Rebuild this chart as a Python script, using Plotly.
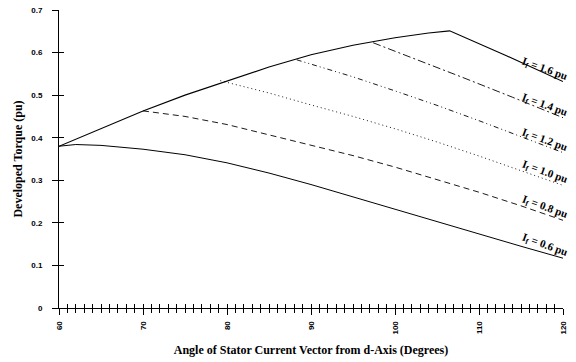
import plotly.graph_objects as go

# ---- data ----
if_labels = ["1.6", "1.4", "1.2", "1.0", "0.8", "0.6"]

angle_16 = [60, 65, 70, 75, 80, 85, 90, 95, 100, 104, 106.5, 113, 120]
torque_16 = [0.380, 0.422, 0.463, 0.500, 0.533, 0.566, 0.595, 0.617, 0.635, 0.646, 0.651, 0.595, 0.532]

angle_14 = [97.4, 103, 108, 114, 120]
torque_14 = [0.623, 0.581, 0.542, 0.495, 0.447]

angle_12 = [88.3, 95, 100, 105, 110, 115, 120]
torque_12 = [0.583, 0.543, 0.510, 0.476, 0.440, 0.403, 0.365]

angle_10 = [79.2, 85, 90, 95, 100, 105, 110, 115, 120]
torque_10 = [0.534, 0.505, 0.477, 0.450, 0.421, 0.390, 0.357, 0.323, 0.288]

angle_08 = [70, 75, 80, 85, 90, 95, 100, 105, 110, 115, 120]
torque_08 = [0.463, 0.450, 0.431, 0.407, 0.383, 0.358, 0.331, 0.302, 0.272, 0.240, 0.206]

angle_06 = [60, 62, 65, 70, 75, 80, 85, 90, 95, 100, 105, 110, 115, 120]
torque_06 = [0.380, 0.384, 0.382, 0.373, 0.360, 0.341, 0.317, 0.290, 0.261, 0.232, 0.202, 0.173, 0.145, 0.117]

x_major_ticks = [60, 70, 80, 90, 100, 110, 120]
y_major_ticks = [0, 0.1, 0.2, 0.3, 0.4, 0.5, 0.6, 0.7]

series = [
    (angle_16, torque_16, "solid", 1.1),
    (angle_14, torque_14, "8px,3px,2px,3px", 0.9),
    (angle_12, torque_12, "5px,3px,1px,3px,1px,3px", 0.9),
    (angle_10, torque_10, "1px,3px", 0.9),
    (angle_08, torque_08, "6px,4px", 0.9),
    (angle_06, torque_06, "solid", 1.0),
]

fig = go.Figure()
for (ax, ty, dash, w), lab in zip(series, if_labels):
    fig.add_trace(go.Scatter(x=ax, y=ty, mode="lines", name="If = " + lab,
                             line=dict(color="black", width=w, dash=dash),
                             showlegend=False, hoverinfo="skip"))
    fig.add_annotation(x=ax[-1], y=ty[-1], xref="x", yref="y",
                       text="I<sub>f</sub> = " + lab + " pu", showarrow=False,
                       textangle=20, xshift=-19, yshift=13,
                       font=dict(family="Liberation Serif", size=11, color="black", weight="bold"))

# invisible trace to establish the overlay axes (inside half of the cross ticks)
fig.add_trace(go.Scatter(x=[60, 120], y=[0, 0.7], xaxis="x2", yaxis="y2",
                         mode="markers", marker=dict(opacity=0), showlegend=False,
                         hoverinfo="skip"))

tickfont = dict(family="Liberation Sans", size=8, color="black", weight="bold")
titlefont = dict(family="Liberation Serif", size=12, color="black", weight="bold")

fig.update_layout(
    width=576, height=362,
    margin=dict(l=59, r=13, t=10, b=54),
    paper_bgcolor="white", plot_bgcolor="white",
    hovermode=False,
    xaxis=dict(range=[60, 120], tickvals=x_major_ticks, ticks="outside", ticklen=6,
               tickwidth=1, tickcolor="black", showline=True, linecolor="black",
               linewidth=1, showgrid=False, zeroline=False, tickangle=-90,
               tickfont=tickfont, ticklabelstandoff=3, automargin=False,
               ticklabeloverflow="allow",
               minor=dict(dtick=1, tick0=60, ticks="outside", ticklen=4,
                          tickcolor="black", showgrid=False),
               title=dict(text="Angle of Stator Current Vector from d-Axis (Degrees)",
                          font=titlefont, standoff=12)),
    yaxis=dict(range=[0, 0.7], tickvals=y_major_ticks,
               ticktext=["0", "0.1", "0.2", "0.3", "0.4", "0.5", "0.6", "0.7"],
               ticks="outside", ticklen=6, tickwidth=1, tickcolor="black",
               showline=True, linecolor="black", linewidth=1, showgrid=False,
               zeroline=False, tickfont=tickfont, ticklabelstandoff=8, automargin=False,
               ticklabeloverflow="allow",
               title=dict(text="Developed Torque (pu)", font=titlefont, standoff=6)),
    xaxis2=dict(range=[60, 120], overlaying="x", anchor="y2", side="bottom",
                tickvals=x_major_ticks, ticks="inside", ticklen=4, tickcolor="black",
                showticklabels=False, showgrid=False, zeroline=False, showline=False,
                automargin=False,
                minor=dict(dtick=1, tick0=60, ticks="inside", ticklen=4,
                           tickcolor="black", showgrid=False)),
    yaxis2=dict(range=[0, 0.7], overlaying="y", anchor="x2", side="left",
                tickvals=y_major_ticks, ticks="inside", ticklen=5, tickcolor="black",
                showticklabels=False, showgrid=False, zeroline=False, showline=False,
                automargin=False),
)

# remove the browser's default body margin so the figure sits at the page origin
fig.write_html("out.html", config={"displayModeBar": False},
               post_script="document.body.style.margin='0';")
